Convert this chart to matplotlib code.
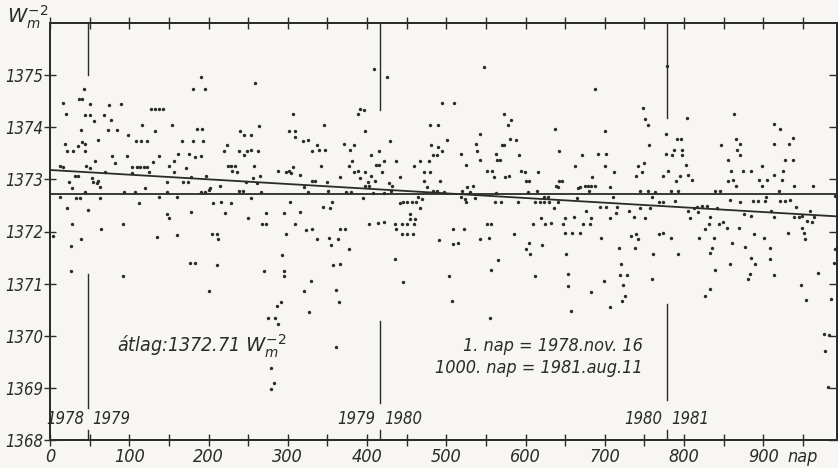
import matplotlib
matplotlib.use("Agg")
import matplotlib.pyplot as plt

# ---- data (day number, solar constant W m^-2) ----
days = [
    43, 36, 41, 17, 50, 74, 89, 20, 44, 50, 68, 127, 132, 137, 142, 55, 77, 39, 73, 84,
    116, 132, 154, 98, 61, 40, 108, 115, 122, 167, 19, 35, 44, 21, 29, 44, 97, 78, 138, 162,
    57, 82, 130, 157, 12, 17, 45, 51, 104, 110, 113, 119, 123, 150, 125, 104, 70, 156, 32, 35,
    24, 53, 54, 59, 60, 28, 63, 120, 148, 168, 44, 93, 107, 147, 13, 33, 38, 63, 137, 160,
    112, 22, 48, 147, 150, 28, 64, 92, 4, 135, 160, 39, 27, 26, 92,
    # strip 2
    190, 180, 196, 259, 306, 264, 185, 192, 240, 245, 254, 301, 309, 309, 319, 326, 180, 193, 223, 337,
    175, 183, 190, 220, 238, 248, 253, 263, 245, 331, 172, 224, 229, 233, 230, 236, 258, 288, 298, 302,
    306, 304, 265, 256, 197, 316, 174, 178, 247, 261, 330, 334, 202, 214, 320, 191, 196, 201, 238, 243,
    266, 254, 326, 206, 216, 229, 303, 178, 221, 272, 295, 315, 250, 268, 273, 309, 323, 331, 337, 205,
    211, 212, 298, 293, 177, 183, 211, 270, 295, 295, 329, 201, 320, 291, 286, 327, 275, 284, 288, 279,
    283, 279,
    # strip 3
    409, 425, 494, 388, 391, 396, 346, 480, 490, 398, 429, 501, 371, 383, 481, 490, 339, 347, 378, 415,
    495, 405, 483, 488, 381, 422, 436, 467, 478, 342, 377, 411, 415, 459, 383, 388, 397, 419, 472, 480,
    366, 391, 405, 442, 472, 492, 350, 401, 410, 428, 398, 403, 431, 476, 351, 374, 380, 408, 422, 430,
    483, 488, 497, 395, 356, 345, 353, 441, 446, 451, 457, 462, 464, 469, 467, 454, 461, 454, 366, 372,
    403, 414, 421, 435, 444, 451, 459, 437, 444, 451, 458, 352, 363, 355, 491, 377, 357, 366, 435, 446,
    504, 361, 365, 361,
    # strip 4
    548, 510, 573, 582, 578, 637, 542, 580, 588, 570, 573, 537, 539, 642, 518, 563, 592, 671, 543, 564,
    568, 525, 663, 551, 558, 594, 599, 616, 560, 574, 579, 600, 605, 642, 646, 638, 641, 526, 534, 669,
    666, 520, 530, 563, 603, 615, 518, 523, 536, 525, 623, 628, 562, 569, 591, 612, 618, 623, 629, 641,
    665, 636, 619, 650, 661, 509, 522, 551, 557, 610, 625, 632, 647, 650, 659, 669, 585, 542, 554, 509,
    515, 604, 621, 600, 606, 651, 565, 557, 612, 654, 653, 507, 657, 555,
    # strip 5
    779, 688, 748, 751, 755, 804, 700, 777, 756, 791, 796, 691, 702, 777, 785, 787, 798, 798, 700, 742,
    750, 802, 711, 747, 780, 684, 739, 774, 795, 805, 810, 790, 675, 679, 682, 688, 706, 680, 744, 754,
    763, 783, 793, 839, 759, 710, 768, 773, 789, 676, 694, 701, 716, 731, 744, 757, 812, 816, 823, 829,
    818, 805, 682, 706, 714, 737, 751, 808, 833, 673, 681, 832, 826, 695, 733, 739, 742, 768, 773, 784,
    819, 838, 718, 738, 835, 833, 761, 793, 721, 719, 728, 839, 699, 760, 723, 833, 826, 726, 722, 707,
    683,
    # strip 6
    863, 914, 921, 866, 937, 847, 871, 913, 932, 867, 871, 855, 927, 937, 859, 874, 884, 898, 925, 855,
    862, 865, 895, 905, 898, 914, 924, 939, 963, 846, 920, 858, 871, 887, 893, 902, 903, 921, 927, 934,
    990, 841, 941, 910, 959, 876, 885, 913, 939, 945, 949, 964, 955, 962, 844, 849, 854, 869, 949, 951,
    953, 931, 888, 901, 860, 877, 909, 991, 885, 909, 989, 889, 858, 969, 913, 883, 881, 948, 954, 985,
    977, 983, 978, 982,
]
values = [
    1374.74, 1374.55, 1374.55, 1374.47, 1374.44, 1374.42, 1374.44, 1374.25, 1374.24, 1374.23,
    1374.24, 1374.35, 1374.35, 1374.35, 1374.35, 1374.12, 1374.14, 1373.94, 1373.94, 1373.94,
    1374.04, 1373.92, 1374.05, 1373.85, 1373.76, 1373.72, 1373.74, 1373.74, 1373.73, 1373.74,
    1373.67, 1373.64, 1373.67, 1373.55, 1373.55, 1373.55, 1373.45, 1373.44, 1373.44, 1373.48,
    1373.35, 1373.32, 1373.33, 1373.35, 1373.25, 1373.24, 1373.25, 1373.22, 1373.24, 1373.24,
    1373.24, 1373.24, 1373.24, 1373.25, 1373.14, 1373.13, 1373.14, 1373.14, 1373.06, 1373.06,
    1372.95, 1373.03, 1372.95, 1372.94, 1372.96, 1372.84, 1372.85, 1372.83, 1372.95, 1372.95,
    1372.76, 1372.76, 1372.76, 1372.76, 1372.66, 1372.65, 1372.65, 1372.65, 1372.66, 1372.66,
    1372.55, 1372.46, 1372.42, 1372.34, 1372.26, 1372.14, 1372.05, 1372.14, 1371.92, 1371.90,
    1371.94, 1371.85, 1371.73, 1371.24, 1371.15,
    # strip 2
    1374.96, 1374.74, 1374.74, 1374.84, 1374.25, 1374.02, 1373.96, 1373.96, 1373.93, 1373.86,
    1373.85, 1373.93, 1373.93, 1373.81, 1373.74, 1373.75, 1373.74, 1373.74, 1373.65, 1373.65,
    1373.48, 1373.43, 1373.45, 1373.55, 1373.54, 1373.55, 1373.56, 1373.55, 1373.46, 1373.54,
    1373.22, 1373.25, 1373.26, 1373.26, 1373.17, 1373.14, 1373.25, 1373.16, 1373.15, 1373.16,
    1373.24, 1373.13, 1373.06, 1373.03, 1373.06, 1373.08, 1372.95, 1373.04, 1372.95, 1372.93,
    1372.96, 1372.96, 1372.84, 1372.87, 1372.85, 1372.76, 1372.76, 1372.79, 1372.77, 1372.77,
    1372.76, 1372.65, 1372.76, 1372.55, 1372.56, 1372.55, 1372.56, 1372.37, 1372.36, 1372.36,
    1372.35, 1372.37, 1372.25, 1372.14, 1372.15, 1372.15, 1372.03, 1372.05, 1371.86, 1371.95,
    1371.95, 1371.85, 1371.95, 1371.54, 1371.40, 1371.40, 1371.35, 1371.24, 1371.25, 1371.15,
    1371.05, 1370.85, 1370.85, 1370.64, 1370.57, 1370.46, 1370.35, 1370.35, 1370.22, 1369.39,
    1369.09, 1368.97,
    # strip 3
    1375.12, 1374.96, 1374.46, 1374.25, 1374.35, 1374.34, 1374.05, 1374.04, 1374.05, 1373.93,
    1373.74, 1373.76, 1373.67, 1373.65, 1373.65, 1373.62, 1373.56, 1373.57, 1373.57, 1373.55,
    1373.55, 1373.46, 1373.46, 1373.46, 1373.35, 1373.35, 1373.35, 1373.36, 1373.35, 1373.25,
    1373.25, 1373.27, 1373.27, 1373.26, 1373.15, 1373.16, 1373.15, 1373.15, 1373.14, 1373.15,
    1373.04, 1373.03, 1373.06, 1373.04, 1372.97, 1372.96, 1372.95, 1372.95, 1372.97, 1372.93,
    1372.87, 1372.87, 1372.87, 1372.85, 1372.77, 1372.76, 1372.76, 1372.74, 1372.74, 1372.78,
    1372.77, 1372.77, 1372.76, 1372.65, 1372.56, 1372.47, 1372.45, 1372.55, 1372.56, 1372.56,
    1372.56, 1372.56, 1372.67, 1372.63, 1372.46, 1372.34, 1372.24, 1372.24, 1372.05, 1372.05,
    1372.15, 1372.16, 1372.18, 1372.15, 1372.15, 1372.15, 1372.15, 1372.05, 1371.95, 1371.95,
    1371.95, 1371.87, 1371.86, 1371.74, 1371.84, 1371.67, 1371.36, 1371.38, 1371.47, 1371.03,
    1371.15, 1370.88, 1370.65, 1369.78,
    # strip 4
    1375.15, 1374.46, 1374.25, 1374.14, 1374.04, 1373.97, 1373.87, 1373.77, 1373.76, 1373.65,
    1373.65, 1373.67, 1373.55, 1373.54, 1373.48, 1373.48, 1373.46, 1373.46, 1373.37, 1373.38,
    1373.37, 1373.27, 1373.25, 1373.16, 1373.17, 1373.16, 1373.15, 1373.15, 1373.04, 1373.05,
    1373.06, 1372.97, 1372.97, 1372.97, 1372.96, 1372.87, 1372.85, 1372.85, 1372.87, 1372.85,
    1372.84, 1372.77, 1372.76, 1372.74, 1372.76, 1372.77, 1372.66, 1372.63, 1372.65, 1372.56,
    1372.67, 1372.66, 1372.56, 1372.56, 1372.56, 1372.56, 1372.56, 1372.56, 1372.56, 1372.56,
    1372.64, 1372.45, 1372.26, 1372.26, 1372.28, 1372.05, 1372.05, 1372.15, 1372.15, 1372.15,
    1372.15, 1372.16, 1372.15, 1371.97, 1371.97, 1371.97, 1371.95, 1371.86, 1371.87, 1371.76,
    1371.78, 1371.78, 1371.75, 1371.67, 1371.56, 1371.56, 1371.45, 1371.26, 1371.15, 1371.19,
    1370.96, 1370.66, 1370.47, 1370.35,
    # strip 5
    1375.17, 1374.73, 1374.37, 1374.15, 1374.04, 1374.17, 1373.93, 1373.88, 1373.65, 1373.77,
    1373.77, 1373.48, 1373.48, 1373.48, 1373.46, 1373.56, 1373.56, 1373.46, 1373.25, 1373.26,
    1373.32, 1373.27, 1373.14, 1373.15, 1373.17, 1373.04, 1373.06, 1373.06, 1373.06, 1373.08,
    1372.98, 1372.97, 1372.87, 1372.87, 1372.87, 1372.87, 1372.85, 1372.78, 1372.77, 1372.77,
    1372.76, 1372.77, 1372.77, 1372.77, 1372.66, 1372.66, 1372.56, 1372.56, 1372.58, 1372.40,
    1372.47, 1372.47, 1372.47, 1372.39, 1372.46, 1372.46, 1372.46, 1372.47, 1372.49, 1372.49,
    1372.37, 1372.39, 1372.25, 1372.26, 1372.36, 1372.28, 1372.25, 1372.26, 1372.28, 1372.15,
    1372.15, 1372.15, 1372.05, 1371.87, 1371.92, 1371.95, 1371.85, 1371.95, 1371.97, 1371.87,
    1371.87, 1371.87, 1371.69, 1371.69, 1371.68, 1371.59, 1371.57, 1371.56, 1371.38, 1371.17,
    1371.17, 1371.26, 1371.05, 1371.08, 1370.98, 1370.90, 1370.77, 1370.77, 1370.66, 1370.56,
    1370.83,
    # strip 6
    1374.26, 1374.07, 1373.96, 1373.77, 1373.79, 1373.65, 1373.67, 1373.67, 1373.67, 1373.56,
    1373.46, 1373.38, 1373.38, 1373.38, 1373.17, 1373.17, 1373.17, 1373.26, 1373.16, 1372.97,
    1372.99, 1372.88, 1372.98, 1372.98, 1372.88, 1373.09, 1372.98, 1372.87, 1372.88, 1372.77,
    1372.78, 1372.60, 1372.56, 1372.58, 1372.58, 1372.58, 1372.67, 1372.58, 1372.59, 1372.60,
    1372.69, 1372.46, 1372.47, 1372.39, 1372.39, 1372.34, 1372.30, 1372.28, 1372.28, 1372.28,
    1372.30, 1372.28, 1372.20, 1372.19, 1372.15, 1372.18, 1372.06, 1372.06, 1372.06, 1371.98,
    1371.86, 1371.98, 1371.96, 1371.87, 1371.78, 1371.70, 1371.69, 1371.67, 1371.50, 1371.48,
    1371.39, 1371.37, 1371.37, 1371.21, 1371.17, 1371.19, 1371.08, 1370.98, 1370.69, 1370.71,
    1370.03, 1370.02, 1369.71, 1369.01,
]

mean_value = 1372.71
trend_days = [0, 993]
trend_values = [1373.18, 1372.29]

year_days = [48, 416, 778]
year_left_labels = ["1978", "1979", "1980"]
year_right_labels = ["1979", "1980", "1981"]
year_top_ends = [1375.0, 1374.33, 1374.17]
year_bottom_tops = [1371.19, 1370.28, 1370.60]
year_bottom_ends = [1368.62, 1368.71, 1368.77]

x_ticks = list(range(0, 1000, 50))
x_tick_labels = ["0", "", "100", "", "200", "", "300", "", "400", "", "500", "", "600", "",
                 "700", "", "800", "", "900", "nap"]
y_ticks = [1368, 1369, 1370, 1371, 1372, 1373, 1374, 1375]

# ---- styling ----
ink = "#2b2b2b"
bg = "#f7f6f2"
FONT = dict(family="DejaVu Sans", style="italic", stretch="condensed")

fig = plt.figure(figsize=(8.38, 4.68), dpi=100, facecolor=bg)
ax = fig.add_axes([50 / 838, 28 / 468, 787 / 838, 417 / 468])
ax.set_facecolor(bg)

ax.set_xlim(0, 993)
ax.set_ylim(1368, 1376)

ax.scatter(days, values, s=6, color=ink, linewidths=0, zorder=3)
ax.axhline(mean_value, color=ink, lw=1.3, zorder=2)
ax.plot(trend_days, trend_values, color=ink, lw=1.3, zorder=2)

for d, lt, rt, t_end, b_top, b_end in zip(year_days, year_left_labels, year_right_labels,
                                           year_top_ends, year_bottom_tops, year_bottom_ends):
    ax.plot([d, d], [1376, t_end], color=ink, lw=1.0)
    ax.plot([d, d], [b_top, b_end], color=ink, lw=1.0)
    ax.plot([d, d], [1368, 1368.2], color=ink, lw=1.0)
    ax.annotate(lt, (d, 1368.4), xytext=(-3, 0), textcoords="offset points",
                ha="right", va="center", fontsize=12, color=ink, **FONT)
    ax.annotate(rt, (d, 1368.4), xytext=(3, 0), textcoords="offset points",
                ha="left", va="center", fontsize=12, color=ink, **FONT)

ax.set_xticks(x_ticks)
ax.set_xticklabels(x_tick_labels)
ax.set_yticks(y_ticks)
ax.tick_params(axis="x", which="both", direction="inout", length=8, width=1.0, colors=ink,
               top=True, labelsize=13, pad=2)
ax.tick_params(axis="y", which="both", direction="inout", length=8, width=1.0, colors=ink,
               labelsize=12, pad=1)
for lab in ax.get_xticklabels() + ax.get_yticklabels():
    lab.set_fontstyle("italic")
    lab.set_fontstretch("condensed")

# right-side inward ticks
axr = ax.twinx()
axr.set_ylim(ax.get_ylim())
axr.set_yticks(y_ticks)
axr.set_yticklabels([])
axr.tick_params(axis="y", direction="in", length=6, width=1.0, colors=ink)

for a in (ax, axr):
    for sp in a.spines.values():
        sp.set_color(ink)
        sp.set_linewidth(1.3)

ax.text(85, 1369.8, "átlag:1372.71 $W_m^{-2}$", fontsize=14, color=ink,
        ha="left", va="center", **FONT)
ax.text(748, 1369.81, "1. nap = 1978.nov. 16", fontsize=13, color=ink,
        ha="right", va="center", **FONT)
ax.text(748, 1369.38, "1000. nap = 1981.aug.11", fontsize=13, color=ink,
        ha="right", va="center", **FONT)

fig.text(28 / 838, 1 - 17 / 468, "$W_m^{-2}$", fontsize=14, color=ink,
         ha="center", va="center")

fig.savefig("out.png", dpi=100, facecolor=bg)
